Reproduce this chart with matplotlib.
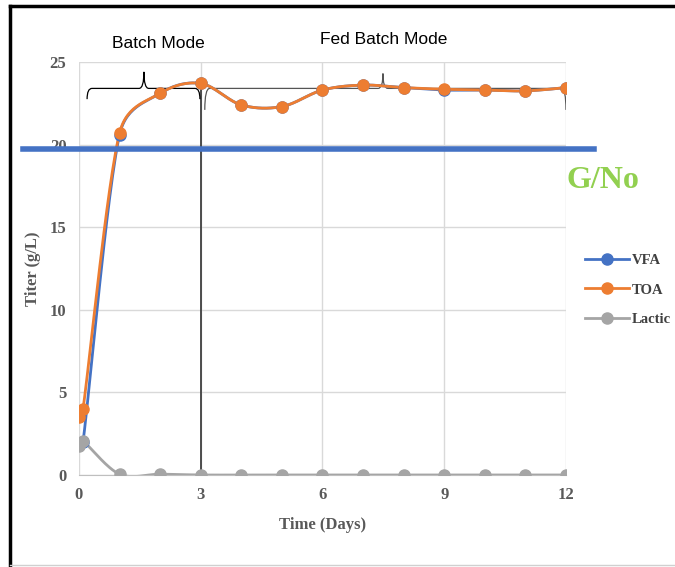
import numpy as np
import matplotlib.pyplot as plt
from matplotlib.lines import Line2D
from matplotlib.path import Path
from matplotlib.patches import PathPatch

plt.rcParams['font.family'] = 'serif'
plt.rcParams['font.serif'] = ['Liberation Serif', 'DejaVu Serif']

# data
days = [0, 0.1, 1, 2, 3, 4, 5, 6, 7, 8, 9, 10, 11, 12]
vfa = [1.8, 2.0, 20.6, 23.1, 23.7, 22.4, 22.3, 23.3, 23.6, 23.45, 23.3, 23.3, 23.25, 23.45]
toa = [3.5, 4.0, 20.7, 23.1, 23.7, 22.4, 22.3, 23.3, 23.6, 23.45, 23.35, 23.3, 23.25, 23.45]
lactic = [1.75, 2.05, 0.05, 0.05, 0, 0, 0, 0, 0, 0, 0, 0, 0, 0]
gno_level = 19.73
switch_day = 3

blue = '#4472C4'
orange = '#ED7D31'
grey = '#A5A5A5'


def smooth(x, y, n=30, sx=40.6, sy=16.5):
    # excel-like smoothed line; handle length capped so short segments don't overshoot
    p = np.column_stack([np.asarray(x) * sx, np.asarray(y) * sy]).astype(float)
    m = len(p)
    cin = p.copy()
    cout = p.copy()
    for i in range(1, m - 1):
        tan = (p[i + 1] - p[i - 1]) / 6
        L = np.hypot(*tan)
        if L == 0:
            continue
        d01 = np.hypot(*(p[i] - p[i - 1]))
        d12 = np.hypot(*(p[i + 1] - p[i]))
        cin[i] = p[i] - tan * min(1, 0.5 * d01 / L)
        cout[i] = p[i] + tan * min(1, 0.5 * d12 / L)
    out = []
    tt = np.linspace(0, 1, n)[:, None]
    for i in range(m - 1):
        p1, c1, c2, p2 = p[i], cout[i], cin[i + 1], p[i + 1]
        out.append((1 - tt) ** 3 * p1 + 3 * (1 - tt) ** 2 * tt * c1 + 3 * (1 - tt) * tt ** 2 * c2 + tt ** 3 * p2)
    out = np.vstack(out)
    return out[:, 0] / sx, out[:, 1] / sy


def brace(ax, x0, x1, xc, y, ytip, yend, **kw):
    d = 0.12
    verts = [(x0, yend), (x0, y), (x0 + d, y),
             (xc - d, y), (xc, y), (xc, ytip),
             (xc, y), (xc + d, y),
             (x1 - d, y), (x1, y), (x1, yend)]
    codes = [Path.MOVETO, Path.CURVE3, Path.CURVE3,
             Path.LINETO, Path.CURVE3, Path.CURVE3,
             Path.CURVE3, Path.CURVE3,
             Path.LINETO, Path.CURVE3, Path.CURVE3]
    ax.add_patch(PathPatch(Path(verts, codes), fill=False, **kw))


fig = plt.figure(figsize=(6.75, 5.67), dpi=100)
ax = fig.add_axes([0.117, 0.1623, 0.7215, 0.7284])

for x, y, c in [(days, vfa, blue), (days, toa, orange), (days, lactic, grey)]:
    sx, sy = smooth(x, y)
    ax.plot(sx, sy, color=c, lw=2.0, zorder=3)
    ax.plot(x, y, 'o', color=c, ms=8, zorder=4)

# legend handles
handles = [Line2D([], [], color=c, lw=2, marker='o', ms=8) for c in (blue, orange, grey)]
leg = fig.legend(handles, ['VFA', 'TOA', 'Lactic'], loc='upper left',
                 bbox_to_anchor=(0.847, 0.575), frameon=False, handlelength=3.0,
                 handletextpad=0.2, labelspacing=1.1,
                 prop={'weight': 'bold', 'size': 10.5})
for txt in leg.get_texts():
    txt.set_color('#404040')

# annotations
ax.plot([switch_day, switch_day], [0, 23.3], color='#404040', lw=1.3, zorder=2)
ax.plot([-1.38, 12.68], [gno_level, gno_level], color=blue, lw=4, clip_on=False, zorder=5)
brace(ax, 0.2, 2.98, 1.6, 23.4, 24.4, 22.75, color='black', lw=0.9, zorder=2)
brace(ax, 3.1, 12.0, 7.49, 23.4, 24.3, 22.1, color='#555555', lw=0.9, zorder=2)

fig.text(158 / 675, 1 - 43 / 567, 'Batch Mode', ha='center', va='center',
         fontsize=12.5, family='Liberation Sans')
fig.text(384 / 675, 1 - 40 / 567, 'Fed Batch Mode', ha='center', va='center',
         fontsize=12.5, family='Liberation Sans')
fig.text(603 / 675, 1 - 180 / 567, 'G/No', ha='center', va='center',
         fontsize=23, weight='bold', color='#92D050')

ax.set_xlim(0, 12)
ax.set_ylim(0, 25)
ax.set_xticks([0, 3, 6, 9, 12])
ax.set_yticks([0, 5, 10, 15, 20, 25])
ax.grid(True, color='#D9D9D9', lw=1)
ax.set_axisbelow(True)
for s in ax.spines.values():
    s.set_visible(False)
ax.spines['bottom'].set_visible(True)
ax.spines['bottom'].set_color('#BFBFBF')
ax.tick_params(length=0, labelsize=12, labelcolor='#595959', pad=9)
for tl in ax.get_xticklabels() + ax.get_yticklabels():
    tl.set_fontweight('bold')
ax.set_xlabel('Time (Days)', fontsize=12, weight='bold', color='#595959', labelpad=10)
ax.set_ylabel('Titer (g/L)', fontsize=12, weight='bold', color='#595959', labelpad=6)

# outer frame
fig.add_artist(Line2D([10 / 675, 10 / 675], [0, 1 - 6 / 567], color='black', lw=2.5))
fig.add_artist(Line2D([10 / 675, 1], [1 - 6 / 567, 1 - 6 / 567], color='black', lw=2.5))
fig.add_artist(Line2D([10 / 675, 1], [2 / 567, 2 / 567], color='#D0D0D0', lw=1))

fig.savefig('out.png', dpi=100)
